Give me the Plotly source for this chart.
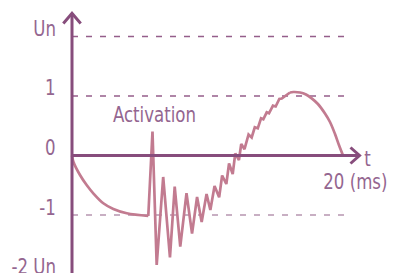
import plotly.graph_objects as go

# ---- data (t in ms, v in units; Un = 2) ----
decay_t = [0, 0.10, 0.59, 1.08, 1.57, 2.31, 3.05, 4.04, 5.63]
decay_v = [0, -0.104, -0.328, -0.496, -0.635, -0.803, -0.899, -0.971, -1.017]

osc_t = [5.63, 5.94, 6.25, 6.73, 7.23, 7.58, 7.99, 8.45, 8.86, 9.23, 9.57, 9.93, 10.21,
         10.52, 10.86, 11.08, 11.39, 11.59, 11.86, 12.05, 12.32, 12.49, 12.73, 13.03,
         13.26, 13.49, 13.71, 13.95, 14.12, 14.37, 14.54, 14.83, 15.03, 15.30, 15.48,
         15.72, 16.09]
osc_v = [-1.017, 0.403, -1.840, -0.361, -1.714, -0.524, -1.533, -0.635, -1.314, -0.697,
         -1.118, -0.647, -0.916, -0.513, -0.703, -0.336, -0.479, -0.134, -0.311, 0.037,
         -0.076, 0.193, 0.106, 0.353, 0.303, 0.474, 0.457, 0.625, 0.608, 0.726, 0.709,
         0.837, 0.824, 0.950, 0.958, 1.000, 1.059]

arc_t = [16.09, 16.33, 16.83, 17.27, 17.69, 18.15, 18.67, 19.04, 19.41, 19.70, 20.0]
arc_v = [1.059, 1.067, 1.059, 1.025, 0.961, 0.866, 0.706, 0.563, 0.361, 0.176, 0.0]

tick_vals = [2, 1, 0, -1, -2]
tick_labels = ["Un", "1", "0", "-1", "-2 Un"]
dashed_vals = [2, 1, -1]
t_end = 20

# ---- style ----
AXIS = "#874d7c"
CURVE = "#c27b90"
TEXT = "#946690"
DASH_DARK = "#955e8a"
DASH_LIGHT = "#b795b0"
FONT = "DejaVu Sans Condensed, Liberation Sans Narrow, sans-serif"
FS = 22

X0, KX = 72.0, 13.55   # pixel of t=0, px per ms
Y0, KY = 155.5, 59.5   # pixel of v=0, px per unit
W, H = 394, 273


def tx(px):
    return (px - X0) / KX


def vy(py):
    return (Y0 - py) / KY


V_LO, V_HI = vy(H), vy(0)


def vpaper(v):
    return (v - V_LO) / (V_HI - V_LO)


fig = go.Figure()
for tt, vv, shp in [(decay_t, decay_v, "spline"), (osc_t, osc_v, "linear"), (arc_t, arc_v, "spline")]:
    fig.add_trace(go.Scatter(x=tt, y=vv, mode="lines",
                             line=dict(color=CURVE, width=2.7, shape=shp),
                             hoverinfo="skip", showlegend=False))

shapes = []
for v in dashed_vals:
    shapes.append(dict(type="line", xref="x", yref="y", x0=0, x1=tx(347), y0=v, y1=v,
                       line=dict(color=DASH_LIGHT if v < 0 else DASH_DARK, width=1.5, dash="6px,8px"),
                       layer="below"))
shapes.append(dict(type="line", xref="x", yref="y", x0=0, x1=0, y0=vy(H + 5), y1=vy(13.5),
                   line=dict(color=AXIS, width=3)))
shapes.append(dict(type="line", xref="x", yref="y", x0=0, x1=tx(359), y0=0, y1=0,
                   line=dict(color=AXIS, width=3)))
shapes.append(dict(type="path", xref="x", yref="y",
                   path=f"M {tx(63.3)} {vy(23.5)} L {tx(72)} {vy(13.3)} L {tx(80.7)} {vy(23.5)}",
                   line=dict(color=AXIS, width=3)))
shapes.append(dict(type="path", xref="x", yref="y",
                   path=f"M {tx(350.5)} {vy(147.5)} L {tx(359.5)} {vy(155.5)} L {tx(350.5)} {vy(163.5)}",
                   line=dict(color=AXIS, width=3)))

annotations = []
fnt = dict(family=FONT, size=FS, color=TEXT)
for v, lab in zip(tick_vals, tick_labels):
    annotations.append(dict(x=0, y=vpaper(v), xref="x", yref="paper", text=lab, showarrow=False,
                            xanchor="right", yanchor="middle", xshift=-14, yshift=8, font=fnt))
annotations.append(dict(x=tx(198), y=vy(114), xref="x", yref="y", text="Activation", showarrow=False,
                        xanchor="right", yanchor="middle", font=fnt))
annotations.append(dict(x=tx(373), y=vy(158), xref="x", yref="y", text="t", showarrow=False,
                        xanchor="right", yanchor="middle", font=fnt))
annotations.append(dict(x=tx(390), y=vy(181), xref="x", yref="y", text=f"{t_end} (ms)", showarrow=False,
                        xanchor="right", yanchor="middle", font=fnt))

fig.update_layout(
    width=W, height=H, margin=dict(l=0, r=0, t=0, b=0),
    paper_bgcolor="white", plot_bgcolor="white",
    xaxis=dict(range=[tx(0), tx(W)], visible=False, fixedrange=True),
    yaxis=dict(range=[V_LO, V_HI], visible=False, fixedrange=True),
    shapes=shapes, annotations=annotations, showlegend=False,
)

css = ("body{margin:0;overflow:hidden}"
       "text.annotation-text{transform-box:fill-box;transform-origin:right center;"
       "transform:scaleX(0.84);}")
fig.write_html("out.html", config={"displayModeBar": False},
               post_script=("var s=document.createElement('style');s.textContent='" + css +
                            "';document.head.appendChild(s);"))
